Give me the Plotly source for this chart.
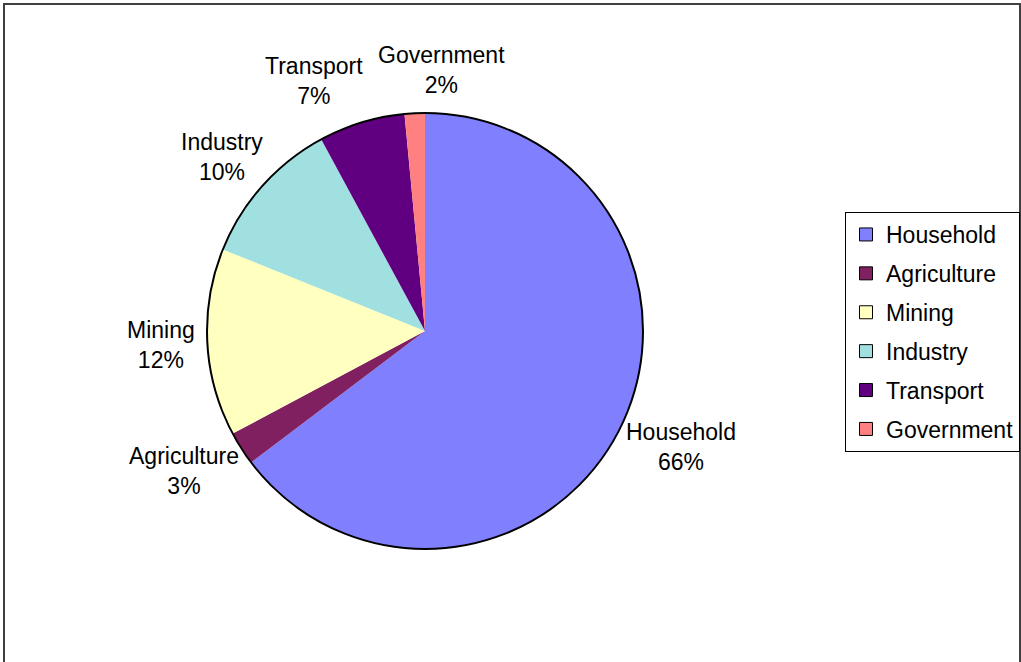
import math
import plotly.graph_objects as go

# ---- data ----
categories = ["Household", "Agriculture", "Mining", "Industry", "Transport", "Government"]
shares = [64.7, 2.5, 13.9, 11.0, 6.4, 1.5]          # slice sizes
pct_labels = ["66%", "3%", "12%", "10%", "7%", "2%"]  # data-label text as printed
colors = ["#8080FF", "#802060", "#FFFFC0", "#A0E0E0", "#600080", "#FF8080"]

# ---- layout constants ----
W, H = 1021, 662
CX, CY, R = 425, 331, 218
FONT = "Arial, 'Liberation Sans', sans-serif"
FS = 23
GAP = 13

# Arial advance widths (per 1000 em) for label width estimates
AW = {'H': 722, 'o': 556, 'u': 556, 's': 500, 'e': 556, 'h': 556, 'l': 222, 'd': 556,
      'A': 667, 'g': 556, 'r': 333, 'i': 222, 'c': 500, 't': 278, 'M': 833, 'n': 556,
      'I': 278, 'y': 500, 'T': 611, 'p': 556, 'a': 556, 'G': 778, 'v': 500, 'm': 833,
      '%': 889, ' ': 278}


def text_w(s):
    return sum(AW.get(ch, 556) for ch in s) / 1000 * FS


fig = go.Figure()
fig.add_trace(go.Pie(
    labels=categories, values=shares, sort=False, direction="clockwise", rotation=0,
    marker=dict(colors=colors, line=dict(width=0)), textinfo="none", showlegend=False,
    domain=dict(x=[(CX - R) / W, (CX + R) / W], y=[1 - (CY + R) / H, 1 - (CY - R) / H]),
))

for name, col in zip(categories, colors):
    fig.add_trace(go.Scatter(
        x=[None], y=[None], mode="markers", name=name, legendgroup=name,
        marker=dict(symbol="square", size=13, color=col, line=dict(color="black", width=1)),
        hoverinfo="skip",
    ))

# ---- data labels positioned from slice mid-angles ----
total = sum(shares)
cum = 0.0
boxes = []
for name, v, p in zip(categories, shares, pct_labels):
    mid = (cum + v / 2) / total * 2 * math.pi
    cum += v
    sx, sy = math.sin(mid), -math.cos(mid)
    w = max(text_w(name), text_w(p))
    h = 2 * FS * 1.3
    cx = CX + (R + GAP) * sx + w / 2 * sx
    cy = CY + (R + GAP) * sy + h / 2 * sy
    boxes.append([cx, cy, w, h])

# simple collision resolution between neighbouring labels
for _ in range(3):
    n = len(boxes)
    for i in range(n):
        a, b = boxes[i], boxes[(i + 1) % n]
        ox = (a[2] + b[2]) / 2 + 15 - abs(a[0] - b[0])
        oy = (a[3] + b[3]) / 2 - abs(a[1] - b[1])
        if ox > 0 and oy > 0:
            left, right = (a, b) if a[0] < b[0] else (b, a)
            left[0] -= ox / 2
            right[0] += ox / 2

annotations = []
for (cx, cy, w, h), name, p in zip(boxes, categories, pct_labels):
    annotations.append(dict(
        x=cx / W, y=1 - cy / H, xref="paper", yref="paper", xanchor="center", yanchor="middle",
        text=f"{name}<br>{p}", showarrow=False, align="center",
        font=dict(family=FONT, size=FS, color="black"),
    ))

shapes = [
    dict(type="circle", xref="paper", yref="paper",
         x0=(CX - R) / W, x1=(CX + R) / W, y0=1 - (CY + R) / H, y1=1 - (CY - R) / H,
         line=dict(color="black", width=2), layer="above"),
    dict(type="rect", xref="paper", yref="paper",
         x0=4 / W, x1=1020 / W, y0=1 - 663 / H, y1=1 - 4 / H,
         line=dict(color="#404040", width=2), fillcolor="rgba(0,0,0,0)"),
]

fig.update_layout(
    width=W, height=H, margin=dict(l=0, r=0, t=0, b=0),
    paper_bgcolor="white", plot_bgcolor="white",
    xaxis=dict(visible=False), yaxis=dict(visible=False),
    font=dict(family=FONT, size=FS, color="black"),
    annotations=annotations, shapes=shapes,
    legend=dict(
        x=845 / W, xanchor="left", y=1 - 332 / H, yanchor="middle",
        bordercolor="black", borderwidth=1, bgcolor="white",
        font=dict(family=FONT, size=FS, color="black"),
        tracegroupgap=6, itemclick=False, itemdoubleclick=False,
    ),
    showlegend=True,
)

fig.write_html("out.html")
